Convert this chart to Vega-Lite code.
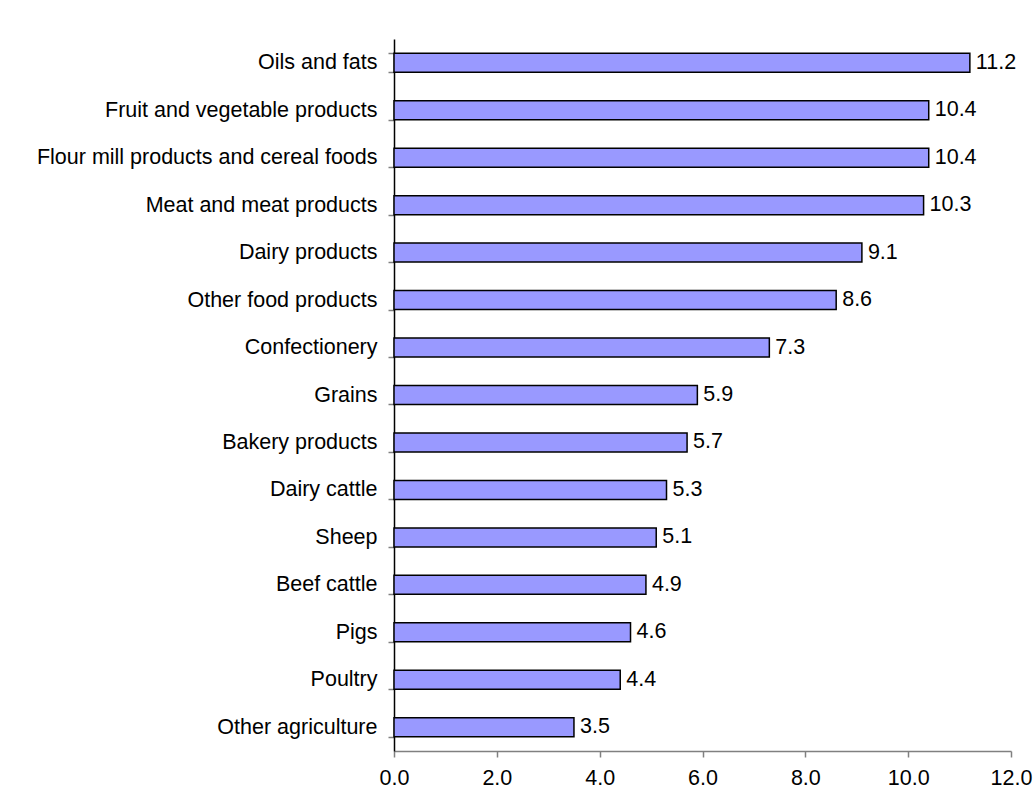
{
  "$schema": "https://vega.github.io/schema/vega-lite/v6.json",
  "width": 617,
  "height": 712,
  "padding": {"left": 36, "top": 28, "right": 5, "bottom": 5},
  "background": "white",
  "config": {"view": {"stroke": null}, "font": "Liberation Sans"},
  "data": {
    "values": [
      {"category": "Oils and fats", "value": 11.2},
      {"category": "Fruit and vegetable products", "value": 10.4},
      {"category": "Flour mill products and cereal foods", "value": 10.4},
      {"category": "Meat and meat products", "value": 10.3},
      {"category": "Dairy products", "value": 9.1},
      {"category": "Other food products", "value": 8.6},
      {"category": "Confectionery", "value": 7.3},
      {"category": "Grains", "value": 5.9},
      {"category": "Bakery products", "value": 5.7},
      {"category": "Dairy cattle", "value": 5.3},
      {"category": "Sheep", "value": 5.1},
      {"category": "Beef cattle", "value": 4.9},
      {"category": "Pigs", "value": 4.6},
      {"category": "Poultry", "value": 4.4},
      {"category": "Other agriculture", "value": 3.5}
    ]
  },
  "encoding": {
    "y": {
      "field": "category",
      "type": "nominal",
      "sort": null,
      "scale": {"paddingInner": 0.6, "paddingOuter": 0.3},
      "axis": {
        "title": null,
        "tickBand": "extent",
        "domainColor": "black",
        "domainWidth": 1.5,
        "tickColor": "#808080",
        "tickWidth": 1.5,
        "tickSize": 6,
        "labelPadding": 11,
        "labelFontSize": 21.5,
        "labelLimit": 0,
        "labelColor": "black",
        "labelFont": "Liberation Sans"
      }
    },
    "x": {
      "field": "value",
      "type": "quantitative",
      "scale": {"domain": [0, 12], "nice": false},
      "axis": {
        "title": null,
        "values": [0, 2, 4, 6, 8, 10, 12],
        "format": ".1f",
        "grid": false,
        "domainColor": "#808080",
        "domainWidth": 1.5,
        "tickColor": "#808080",
        "tickWidth": 1.5,
        "tickSize": 6,
        "labelPadding": 10,
        "labelFontSize": 21.5,
        "labelColor": "black",
        "labelFont": "Liberation Sans",
        "labelFlush": false
      }
    }
  },
  "layer": [
    {
      "mark": {"type": "bar", "color": "#9999FF", "stroke": "black", "strokeWidth": 1.5}
    },
    {
      "mark": {"type": "text", "align": "left", "baseline": "middle", "dx": 6, "fontSize": 21.5, "color": "black", "font": "Liberation Sans"},
      "encoding": {"text": {"field": "value", "type": "quantitative", "format": ".1f"}}
    }
  ]
}
